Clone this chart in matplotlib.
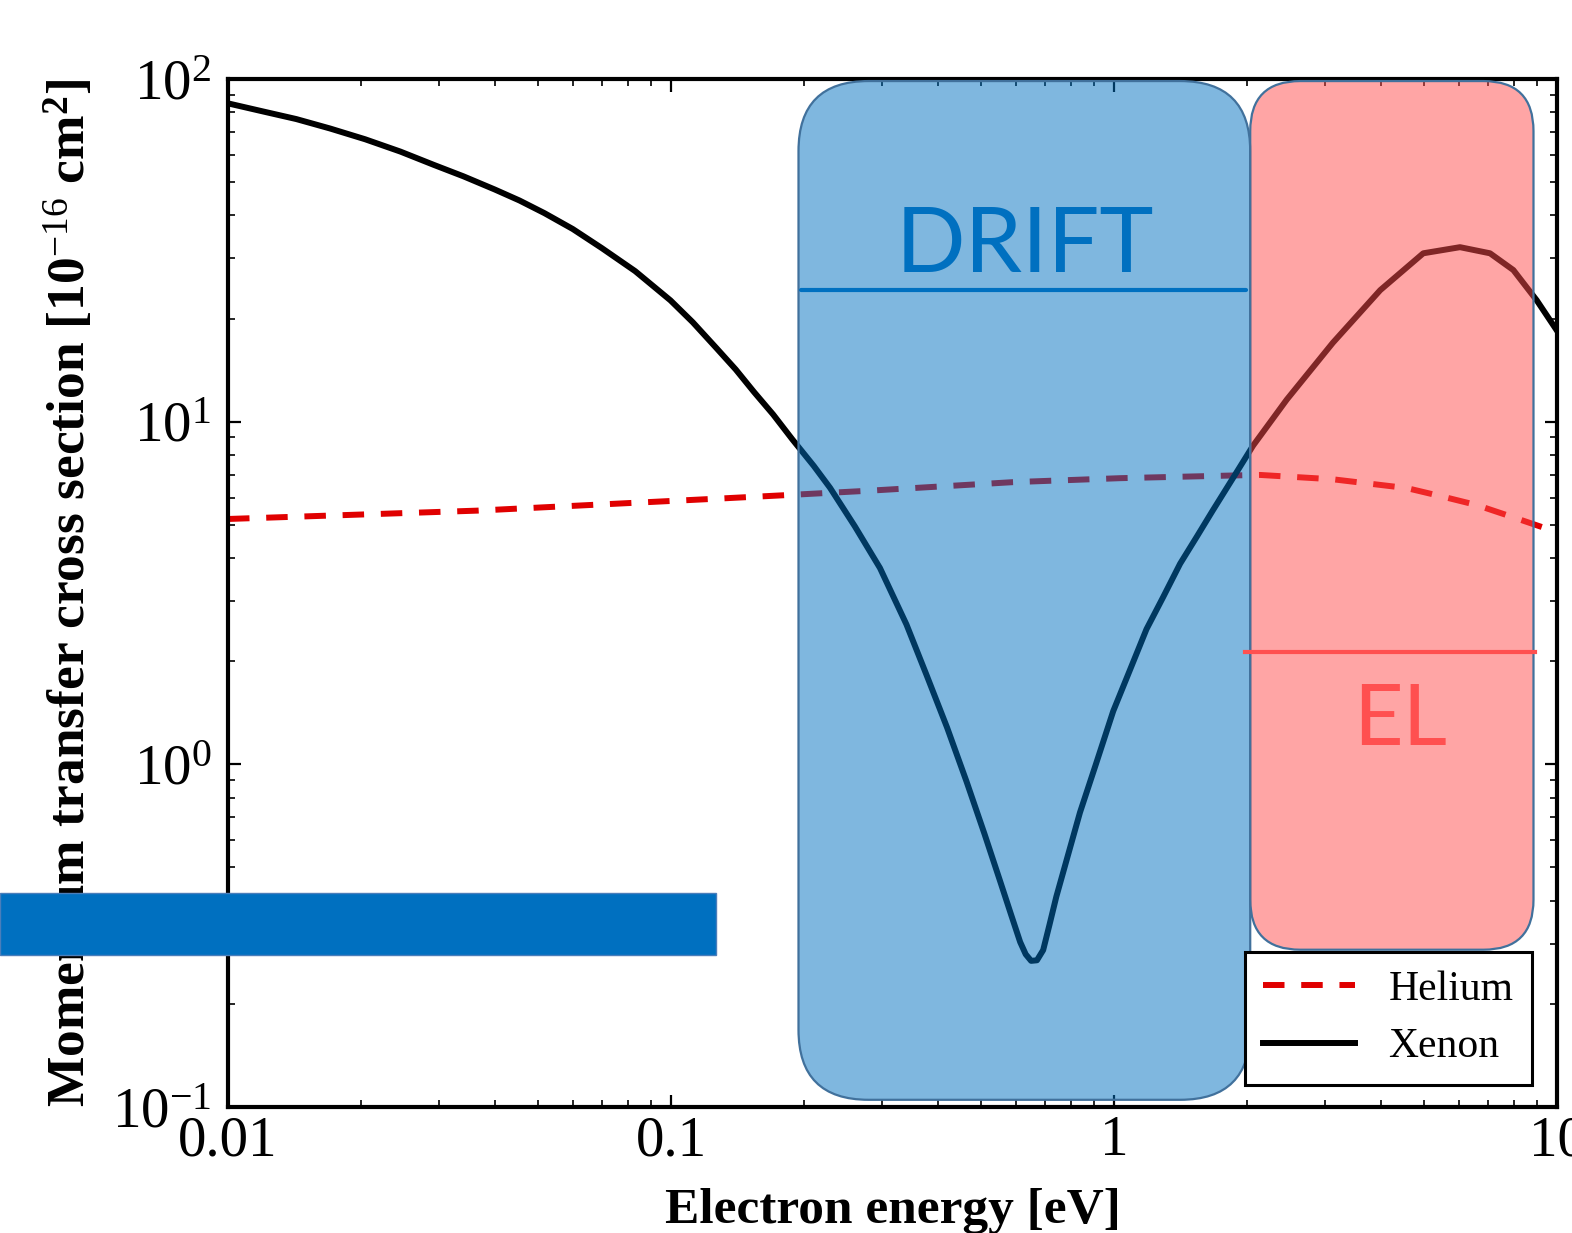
import matplotlib
matplotlib.use("Agg")
import matplotlib.pyplot as plt
from matplotlib.patches import FancyBboxPatch, Rectangle
from matplotlib.lines import Line2D

# ---------------- data ----------------
xe_energy = [0.01, 0.012, 0.01426, 0.017, 0.0204, 0.0245, 0.0291, 0.034, 0.04,
             0.0455, 0.0518, 0.06, 0.0698, 0.083, 0.0997, 0.112, 0.1266, 0.14,
             0.154, 0.17, 0.188, 0.21, 0.2286, 0.26, 0.2963, 0.34, 0.3776, 0.42,
             0.4649, 0.51, 0.553, 0.585, 0.614, 0.632, 0.65, 0.67, 0.692, 0.715,
             0.741, 0.79, 0.838, 0.91, 0.996, 1.09, 1.184, 1.29, 1.41, 1.54,
             1.67, 1.85, 2.06, 2.455, 3.12, 3.99, 4.99, 6.04, 7.06, 7.97, 9.0, 9.98]
xe_sigma = [84.9, 80.4, 76.4, 71.7, 66.7, 61.4, 56.2, 52.0, 47.6,
            44.2, 40.6, 36.5, 32.1, 27.5, 22.6, 19.5, 16.4, 14.2,
            12.2, 10.5, 8.87, 7.43, 6.41, 4.95, 3.74, 2.56, 1.82, 1.28,
            0.889, 0.627, 0.457, 0.366, 0.303, 0.279, 0.267, 0.268, 0.287, 0.340,
            0.411, 0.552, 0.724, 1.00, 1.43, 1.905, 2.48, 3.07, 3.85, 4.63,
            5.50, 6.80, 8.51, 11.6, 17.0, 24.2, 31.0, 32.3, 31.0, 27.7, 22.6, 18.5]

he_energy = [0.01, 0.0365, 0.1336, 0.189, 0.281, 0.591, 1.03, 1.99, 2.14, 3.12,
             4.58, 5.5, 6.59, 8.0, 9.4, 10.0]
he_sigma = [5.2, 5.5, 5.98, 6.12, 6.29, 6.66, 6.84, 6.98, 6.99, 6.79,
            6.40, 6.05, 5.71, 5.25, 4.89, 4.75]

x_ticks = [0.01, 0.1, 1, 10]
x_ticklabels = ["0.01", "0.1", "1", "10"]
y_ticks = [0.1, 1, 10, 100]
y_ticklabels = [r"$10^{-1}$", r"$10^{0}$", r"$10^{1}$", r"$10^{2}$"]

series_labels = ["Helium", "Xenon"]
region_labels = ["DRIFT", "EL"]
drift_range = (0.194, 2.03)   # eV
el_range = (2.03, 8.85)       # eV

# ---------------- style ----------------
plt.rcParams["font.family"] = ["Liberation Serif", "DejaVu Serif"]
plt.rcParams["mathtext.fontset"] = "custom"
plt.rcParams["mathtext.rm"] = "Liberation Serif"
plt.rcParams["mathtext.it"] = "Liberation Serif:italic"
plt.rcParams["mathtext.bf"] = "Liberation Serif:bold"

W, H, DPI = 1572, 1233, 100
fig = plt.figure(figsize=(W / DPI, H / DPI), dpi=DPI)
L, R, T, B = 228, 1557, 79, 1107
ax = fig.add_axes([L / W, 1 - B / H, (R - L) / W, (B - T) / H])

ax.set_xscale("log")
ax.set_yscale("log")
ax.set_xlim(0.01, 10)
ax.set_ylim(0.1, 100)

he_line, = ax.plot(he_energy, he_sigma, color="#E00000", lw=4.3,
                   dashes=(3.6, 2.8), dash_capstyle="butt", zorder=2)
xe_line, = ax.plot(xe_energy, xe_sigma, color="black", lw=4.3, zorder=2.1,
                   solid_joinstyle="round")

ax.set_xticks(x_ticks)
ax.set_xticklabels(x_ticklabels)
ax.set_yticks(y_ticks)
ax.set_yticklabels(y_ticklabels)

for s in ax.spines.values():
    s.set_linewidth(3.0)
ax.tick_params(which="both", direction="in", top=True, right=True)
ax.tick_params(which="major", length=9, width=1.6, labelsize=41, pad=6)
ax.tick_params(axis="y", which="major", pad=12)
ax.tick_params(which="minor", length=5, width=1.2)

ax.set_xlabel("Electron energy [eV]", fontsize=37, fontweight="bold")
ax.set_ylabel(r"Momentum transfer cross section [10$^{-16}$ cm$^{\mathbf{2}}$]",
              fontsize=38.5, fontweight="bold")
ax.xaxis.set_label_coords(0.5, -0.079)
ax.yaxis.set_label_coords(-0.099, 0.5)

# ---------------- region boxes ----------------
def region_box(x0, x1, yf0, yf1, radius_px, fc, zorder):
    px0 = ax.transData.transform((x0, 1))[0]
    px1 = ax.transData.transform((x1, 1))[0]
    py0 = ax.transAxes.transform((0, yf0))[1]
    py1 = ax.transAxes.transform((0, yf1))[1]
    d = fig.dpi
    p = FancyBboxPatch((px0 / d, py0 / d), (px1 - px0) / d, (py1 - py0) / d,
                       boxstyle=f"round,pad=0,rounding_size={radius_px / d}",
                       transform=fig.dpi_scale_trans, facecolor=fc,
                       edgecolor="#41719C", linewidth=1.6, zorder=zorder,
                       clip_on=False)
    ax.add_artist(p)
    return p

region_box(*drift_range, 0.007, 0.998, 70, (0.0, 0.439, 0.753, 0.5), 3)
region_box(*el_range, 0.153, 0.998, 50, (1.0, 0.30, 0.30, 0.5), 3)

# region captions and separator lines
ax.add_line(Line2D([0.431, 0.766], [0.7947, 0.7947], transform=ax.transAxes,
                   color="#0070C0", lw=3.0, solid_capstyle="round", zorder=4))
ax.text(0.5997, 0.812, region_labels[0], transform=ax.transAxes, ha="center",
        va="baseline", fontsize=66, color="#0070C0", family="Lato", zorder=4)
ax.add_line(Line2D([0.765, 0.9834], [0.4426, 0.4426], transform=ax.transAxes,
                   color="#FF5050", lw=3.0, zorder=4))
ax.text(0.8819, 0.352, region_labels[1], transform=ax.transAxes, ha="center",
        va="baseline", fontsize=62, color="#FF5050", family="Lato", zorder=4)

# ---------------- legend ----------------
leg = ax.legend([he_line, xe_line], series_labels, loc="lower right",
                bbox_to_anchor=(0.9812, 0.0214), borderaxespad=0,
                fontsize=30, frameon=True, fancybox=False, framealpha=1,
                edgecolor="black", handlelength=2.2, handletextpad=0.8,
                labelspacing=0.45, borderpad=0.45)
leg.get_frame().set_linewidth(2.2)
leg.set_zorder(6)

# ---------------- overlay bar (part of the reference picture) ----------------
fig.add_artist(Rectangle((0, 1 - 955 / H), 716 / W, 62 / H, transform=fig.transFigure,
                         facecolor="#0070C0", edgecolor="#4A7EBB", lw=1.0, zorder=10))

fig.savefig("out.png", dpi=DPI)
